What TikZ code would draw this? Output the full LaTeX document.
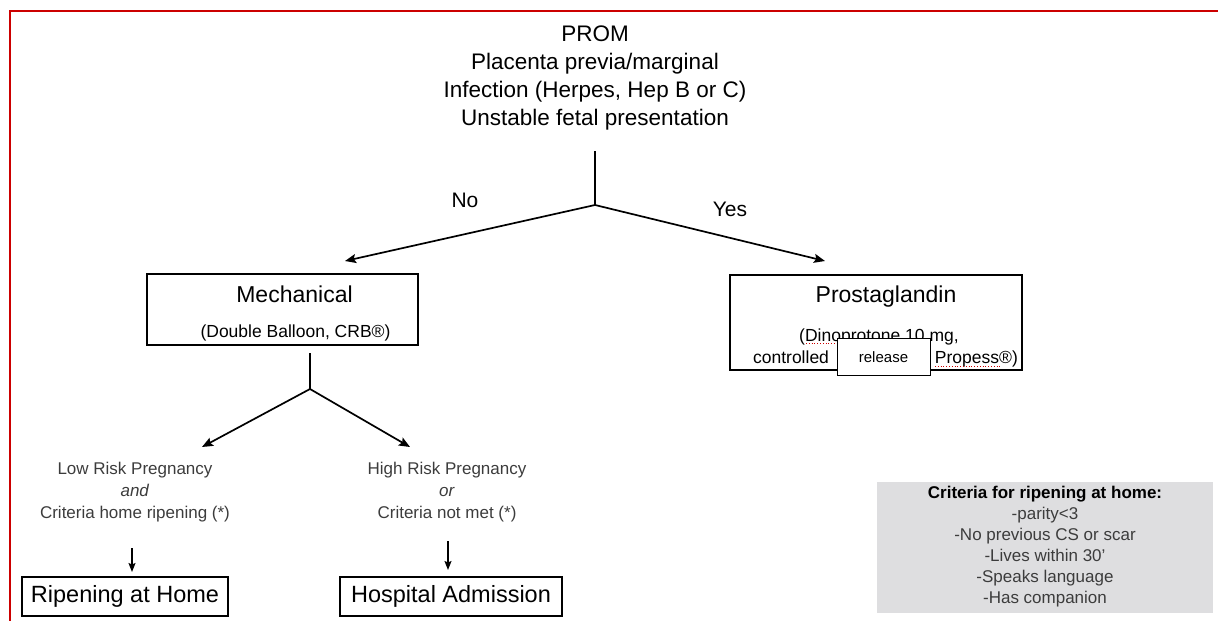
\documentclass[tikz,border=0pt]{standalone}
\usepackage{fontspec}
\setmainfont{Liberation Sans}
\usetikzlibrary{arrows.meta,positioning}
\definecolor{framered}{RGB}{204,0,0}
\definecolor{critgray}{RGB}{222,222,224}
\definecolor{softtext}{RGB}{60,60,60}

\begin{document}
\begin{tikzpicture}[x=1pt,y=-1pt,
    titlefont/.style={font=\fontsize{22.5}{28}\selectfont},
    smallfont/.style={font=\fontsize{17}{22}\selectfont,text=softtext},
    choicebox/.style={draw,line width=1.8pt,align=center,inner sep=0pt},
    endbox/.style={draw,line width=1.5pt,inner sep=0pt,minimum height=39pt,font=\fontsize{23.5}{26}\selectfont},
    branch/.style={line width=1.7pt},
    arrow/.style={-{Stealth[length=11pt,width=9pt,inset=2pt]},line width=1.7pt},
    thinarrow/.style={-{Stealth[length=9pt,width=7pt,inset=1.5pt]},line width=1.3pt}]
  \useasboundingbox (0,0) rectangle (1218,621);
  \draw[framered,line width=2pt] (10,621) -- (10,11) -- (1218,11);

  % question at the top
  \node[titlefont,align=center] (question) at (595,77.5)
    {PROM\\Placenta previa/marginal\\Infection (Herpes, Hep B or C)\\Unstable fetal presentation};
  \coordinate (qfoot) at (595,151);
  \coordinate (qsplit) at (595,205);
  \draw[branch] (qfoot) -- (qsplit);

  \node[font=\fontsize{21}{24}\selectfont] (no) at (465,200) {No};
  \node[font=\fontsize{21}{24}\selectfont] (yes) at (730,209) {Yes};

  % the two methods
  \node[choicebox,minimum width=271pt,minimum height=71pt,
        font=\fontsize{17.5}{20}\selectfont] (mech) at (282.5,309.5)
    {{\fontsize{23}{28}\selectfont\rule{0pt}{25pt}\hspace*{24pt}Mechanical}\\[15pt]\hspace*{26pt}(Double Balloon, CRB®)};
  \node[choicebox,minimum width=292pt,minimum height=95pt,
        font=\fontsize{17.5}{22}\selectfont] (prost) at (876,322.5)
    {{\fontsize{23}{28}\selectfont\rule{0pt}{25pt}\hspace*{20pt}Prostaglandin}\\[17pt]\hspace*{6pt}(Dinoprotone 10 mg,\\\hspace*{19pt}controlled\hspace*{106pt}Propess®)};
  \draw[framered,dotted,line width=0.8pt] (806,343) -- (905,343);
  \draw[framered,dotted,line width=0.8pt] (935,366) -- (1000,366);
  \node[draw,fill=white,line width=0.8pt,minimum width=93pt,minimum height=37pt,
        inner sep=0pt,font=\fontsize{15}{17}\selectfont] (release) at (883.5,357) {release};

  \coordinate (mechin) at (345,261);
  \coordinate (prostin) at (825,261);
  \draw[arrow] (qsplit) -- (mechin);
  \draw[arrow] (qsplit) -- (prostin);

  % split below the mechanical box
  \coordinate (mfoot) at (310,353);
  \coordinate (msplit) at (310,389);
  \coordinate (lowin) at (202,447);
  \coordinate (highin) at (410,447);
  \draw[branch] (mfoot) -- (msplit);
  \draw[arrow] (msplit) -- (lowin);
  \draw[arrow] (msplit) -- (highin);

  \node[smallfont,align=center] (low) at (135,492)
    {Low Risk Pregnancy\\\textit{and}\\Criteria home ripening (*)};
  \node[smallfont,align=center] (high) at (447,492)
    {High Risk Pregnancy\\\textit{or}\\Criteria not met (*)};

  \node[endbox,minimum width=206pt] (home) at (125,596.5) {Ripening at Home};
  \node[endbox,minimum width=222pt] (hospital) at (451,596.5) {Hospital Admission};

  \coordinate (lowout) at (132,548);
  \coordinate (lowtip) at (132,572);
  \coordinate (highout) at (448,541);
  \coordinate (hightip) at (448,570);
  \draw[thinarrow] (lowout) -- (lowtip);
  \draw[thinarrow] (highout) -- (hightip);

  % criteria box
  \node[fill=critgray,minimum width=336pt,minimum height=131pt,align=center,
        font=\fontsize{17}{21}\selectfont,text=softtext] (criteria) at (1045,547)
    {\textbf{\color{black}Criteria for ripening at home:}\\-parity<3\\-No previous CS or scar\\-Lives within 30'\\-Speaks language\\-Has companion};
\end{tikzpicture}
\end{document}
